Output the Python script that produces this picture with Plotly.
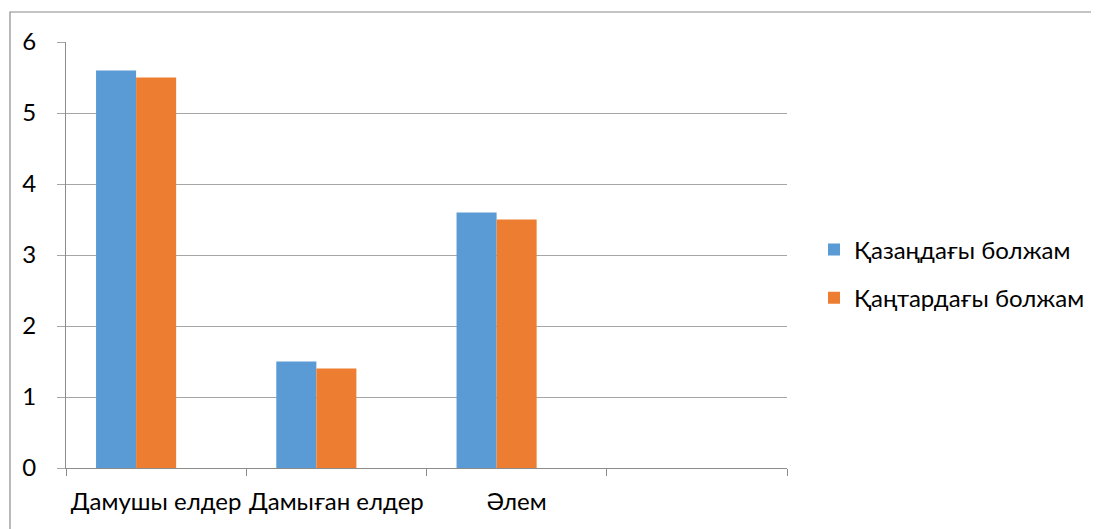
import plotly.graph_objects as go

categories = ["Дамушы елдер", "Дамыған елдер", "Әлем", " "]
series_names = ["Қазаңдағы болжам", "Қаңтардағы болжам", "Ряд 3"]
oct_forecast = [5.6, 1.5, 3.6, None]
jan_forecast = [5.5, 1.4, 3.5, None]
third_series = [None, None, None, None]
y_ticks = [0, 1, 2, 3, 4, 5, 6]

colors = ["#5B9BD5", "#ED7D31", "#A5A5A5"]
OFF = 8  # default body margin of the html page
W, H = 1099 - OFF, 529 - OFF
L, R, T, B = 66 - OFF, 787 - OFF, 42 - OFF, 468 - OFF
pw, ph = R - L, B - T

FONT = "Lato, Open Sans, sans-serif"
FS = 24

fig = go.Figure()
for i, (name, vals) in enumerate(zip(series_names, [oct_forecast, jan_forecast, third_series])):
    fig.add_trace(go.Bar(
        x=categories, y=vals, name=name,
        marker=dict(color=colors[i], line=dict(width=0)),
        showlegend=(i < 2), legendgroup=f"g{i}",
    ))

def px_x(x):
    return (x - OFF - L) / pw

def px_y(y):
    return (B - (y - OFF)) / ph

fig.add_shape(type="rect", xref="paper", yref="paper",
              x0=px_x(10), x1=px_x(1110), y0=px_y(545), y1=px_y(12),
              line=dict(color="#8a8a8a", width=1.2), fillcolor="rgba(0,0,0,0)", layer="below")

fig.update_layout(
    width=W, height=H,
    margin=dict(l=L, r=W - R, t=T, b=H - B, autoexpand=False),
    paper_bgcolor="white", plot_bgcolor="white",
    barmode="group", bargap=1/3, bargroupgap=0,
    font=dict(family=FONT, size=FS, color="#000000"),
    legend=dict(x=px_x(814), y=px_y(274), xanchor="left", yanchor="middle",
                font=dict(family=FONT, size=FS, color="#000000"),
                tracegroupgap=14, bgcolor="rgba(0,0,0,0)"),
    xaxis=dict(type="category", categoryorder="array", categoryarray=categories,
               range=[-0.5, 3.5], showgrid=False, showline=True, linecolor="#8c8c8c", linewidth=1.2,
               ticks="outside", tickson="boundaries", ticklen=7, tickcolor="#8c8c8c", tickwidth=1.2,
               tickangle=0, tickfont=dict(family=FONT, size=FS), ticklabelstandoff=12, zeroline=False),
    yaxis=dict(range=[0, 6], tickvals=y_ticks, showgrid=True, gridcolor="#a6a6a6", gridwidth=1,
               showline=True, linecolor="#8c8c8c", linewidth=1.2,
               ticks="outside", ticklen=8, tickcolor="#a6a6a6", tickwidth=1,
               tickfont=dict(family=FONT, size=FS), ticklabelstandoff=16, zeroline=False),
)

fig.write_html("out.html")
